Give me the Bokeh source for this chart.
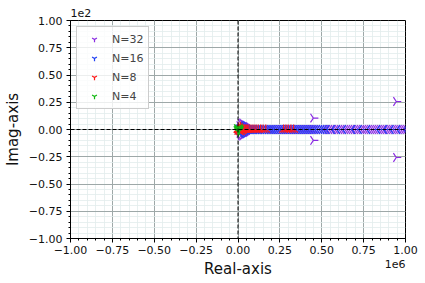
from bokeh.plotting import figure
from bokeh.models import (Range1d, FixedTicker, CustomJSTickFormatter, Span, Label, Title,
                          Legend, LegendItem, ColumnDataSource)
from bokeh.embed import file_html
from bokeh.resources import INLINE

# ---------------- data (real parts in thousands, imaginary parts raw) ----------------
labels = ["N=32", "N=16", "N=8", "N=4"]
colors = ["#8a2be2", "#2040f5", "#ff1a1a", "#12b812"]

# N=32 : real eigenvalues (imag = 0)
re32_real_k = [0, 2, 5, 8, 12, 16, 21, 26, 32, 38, 45, 52, 60, 68, 77, 86, 95, 105, 115, 125,
               135, 146, 157, 168, 179, 190, 201, 213, 225, 237, 249, 261, 273, 285, 297,
               309, 321, 333, 345, 357, 369, 381, 393, 405, 417, 429, 441, 453, 465, 477,
               489, 501, 513, 525, 537, 549, 561, 573, 585, 597, 609, 621, 633, 645, 657,
               669, 681, 693, 705, 717, 729, 741, 753, 765, 777, 789, 801, 813, 825, 837,
               849, 861, 873, 885, 897, 909, 921, 933, 945, 957, 969, 981, 993, 1005]
# N=32 : complex pairs
re32_cplx_k = [10, 10, 18, 18, 26, 26, 34, 34, 42, 42, 50, 50, 58, 58, 66, 66, 74, 74,
               82, 82, 450, 450, 945, 945]
im32_cplx = [3.5, -3.5, 5.5, -5.5, 6.0, -6.0, 5.0, -5.0, 4.2, -4.2, 3.4, -3.4, 2.6, -2.6,
             2.0, -2.0, 1.5, -1.5, 1.0, -1.0, 10.5, -10.0, 25.7, -25.7]

# N=16
re16_real_k = [0, 2, 4, 7, 10, 14, 18, 23, 28, 34, 40, 47, 54, 62, 70, 79, 88, 97, 107, 117,
               127, 137, 148, 159, 170, 181, 192, 203, 214, 226, 238, 250, 262, 274, 286,
               298, 310, 322, 334, 346, 358, 370, 382, 394, 406, 418, 431, 444, 457, 470,
               484, 498, 512, 527, 560, 590, 625, 680, 720, 770, 830, 870, 910, 950, 990]
re16_cplx_k = [8, 8, 16, 16, 24, 24, 32, 32, 40, 40]
im16_cplx = [3.0, -3.0, 4.0, -4.0, 3.2, -3.2, 2.2, -2.2, 1.4, -1.4]

# N=8
re8_real_k = [0, 1, 3, 5, 7, 10, 13, 16, 20, 24, 28, 33, 38, 43, 49, 55, 61, 72, 84, 96,
              108, 121, 135, 150, 166, 272, 286, 300, 316, 332]
re8_cplx_k = [5, 5, 15, 15, 25, 25]
im8_cplx = [2.0, -2.0, 2.5, -2.5, 1.5, -1.5]

# N=4
re4_real_k = [0, 5, 9]
re4_cplx_k = [2, 2, 5, 5]
im4_cplx = [2.0, -2.0, 1.0, -1.0]

x_major = [-1.0e6, -0.75e6, -0.5e6, -0.25e6, 0.0, 0.25e6, 0.5e6, 0.75e6, 1.0e6]
y_major = [-100, -75, -50, -25, 0, 25, 50, 75, 100]

FONT = "DejaVu Sans"

p = figure(frame_width=335, frame_height=218,
           x_range=Range1d(-1e6, 1e6), y_range=Range1d(-100, 100),
           output_backend="svg", toolbar_location=None,
           min_border_left=66, min_border_right=14, min_border_top=20, min_border_bottom=30)
p.background_fill_color = "white"
p.border_fill_color = "white"
p.outline_line_color = "black"
p.outline_line_alpha = 1.0
p.outline_line_width = 1

x_minor = [x_major[0] + i * 50000 for i in range(41)]
y_minor = [y_major[0] + i * 5 for i in range(41)]
p.xaxis.ticker = FixedTicker(ticks=x_major, minor_ticks=x_minor)
p.yaxis.ticker = FixedTicker(ticks=y_major, minor_ticks=y_minor)
p.xaxis.formatter = CustomJSTickFormatter(code="return (tick/1000000).toFixed(2).replace('-', '\u2212');")
p.yaxis.formatter = CustomJSTickFormatter(code="return (tick/100).toFixed(2).replace('-', '\u2212');")

for ax in (p.xaxis, p.yaxis):
    ax.axis_line_color = "black"
    ax.major_tick_line_color = "black"
    ax.minor_tick_line_color = "black"
    ax.major_tick_out = 4
    ax.major_tick_in = 0
    ax.minor_tick_out = 2
    ax.minor_tick_in = 0
    ax.major_label_text_font = FONT
    ax.major_label_text_font_size = "11px"
    ax.major_label_text_color = "#111111"
    ax.axis_label_text_font = FONT
    ax.axis_label_text_font_size = "15px"
    ax.axis_label_text_font_style = "normal"
    ax.axis_label_text_color = "#111111"
p.xaxis.axis_label = "Real-axis"
p.yaxis.axis_label = "Imag-axis"
p.xaxis.major_label_standoff = 3
p.yaxis.major_label_standoff = 4
p.xaxis.axis_label_standoff = 3
p.yaxis.axis_label_standoff = 4

p.grid.grid_line_color = "#9ea8a8"
p.grid.grid_line_width = 1
p.grid.minor_grid_line_color = "#e2ecec"
p.grid.minor_grid_line_width = 0.8

angles = [1.5708, -1.5708, 3.14159, 0.0]  # tri_right, tri_left, tri_up, tri_down
series = [
    (re32_real_k, re32_cplx_k, im32_cplx),
    (re16_real_k, re16_cplx_k, im16_cplx),
    (re8_real_k, re8_cplx_k, im8_cplx),
    (re4_real_k, re4_cplx_k, im4_cplx),
]
renderers = []
for (rr, rc, ic), col, ang in zip(series, colors, angles):
    xs = [v * 1000 for v in rr] + [v * 1000 for v in rc]
    ys = [0.0 for _ in rr] + list(ic)
    src = ColumnDataSource(dict(x=xs, y=ys))
    r = p.scatter("x", "y", source=src, marker="y", size=10, angle=ang,
                  line_color=col, line_width=1.2, fill_alpha=0)
    renderers.append(r)

p.add_layout(Span(location=0, dimension="height", line_color="black", line_width=1,
                  line_dash="4 2"))
p.add_layout(Span(location=0, dimension="width", line_color="black", line_width=1,
                  line_dash="4 2"))

legend = Legend(items=[LegendItem(label=l, renderers=[r]) for l, r in zip(labels, renderers)],
                location="top_left", margin=6, padding=5, spacing=5,
                glyph_width=24, glyph_height=14, label_height=14, label_standoff=6,
                label_text_font=FONT, label_text_font_size="11px",
                border_line_color="#cccccc", border_line_alpha=1, border_line_width=1,
                background_fill_alpha=0.8)
p.add_layout(legend)

p.add_layout(Title(text="1e2", align="left", text_font=FONT, text_font_size="11px",
                   text_font_style="normal", text_color="#111111", standoff=7), "above")
p.add_layout(Label(x=335, y=25, x_units="screen", y_units="screen", text="1e6",
                   text_font=FONT, text_font_size="11px", text_align="right",
                   text_baseline="middle", text_color="#111111"), "below")

open("out.html", "w").write(file_html(p, INLINE))
